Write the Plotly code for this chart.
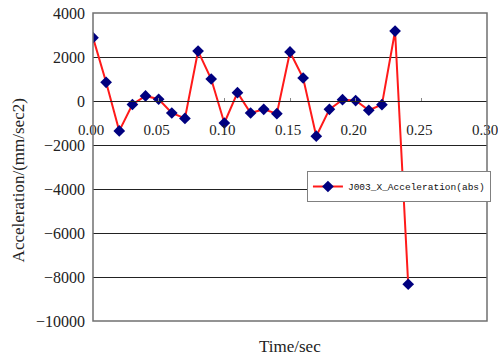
import plotly.graph_objects as go

time_sec = [0.00, 0.01, 0.02, 0.03, 0.04, 0.05, 0.06, 0.07, 0.08, 0.09,
            0.10, 0.11, 0.12, 0.13, 0.14, 0.15, 0.16, 0.17, 0.18, 0.19,
            0.20, 0.21, 0.22, 0.23, 0.24]
acceleration = [2880, 850, -1360, -160, 230, 80, -545, -790, 2270, 1000,
                -1000, 380, -545, -380, -575, 2230, 1045, -1600, -380, 60,
                20, -420, -165, 3180, -8330]
series_name = "J003_X_Acceleration(abs)"
x_ticks = [0.00, 0.05, 0.10, 0.15, 0.20, 0.25, 0.30]
x_labels = ["0.00", "0.05", "0.10", "0.15", "0.20", "0.25", "0.30"]
y_ticks = [4000, 2000, 0, -2000, -4000, -6000, -8000, -10000]
y_labels = ["4000", "2000", "0", "\u22122000", "\u22124000", "\u22126000",
            "\u22128000", "\u221210000"]

serif = "Liberation Serif"

fig = go.Figure()
fig.add_trace(go.Scatter(
    x=time_sec, y=acceleration, mode="lines+markers", name=series_name,
    line=dict(color="#ff1a1a", width=2),
    marker=dict(symbol="diamond", size=9, color="#00007f"),
))

fig.update_layout(
    width=498, height=356,
    margin=dict(l=93, r=11, t=13, b=35, autoexpand=False),
    paper_bgcolor="white", plot_bgcolor="white",
    showlegend=True,
    legend=dict(
        x=1.01, xanchor="right", y=0.487, yanchor="top",
        bgcolor="white", bordercolor="#808080", borderwidth=1,
        font=dict(family="Liberation Mono", size=9.5, color="#111"),
        itemwidth=30, tracegroupgap=0,
    ),
    xaxis=dict(
        range=[0, 0.30], tickvals=x_ticks, ticktext=x_labels,
        anchor="free", position=10/14, automargin=False,
        showline=True, linecolor="#222", linewidth=1,
        ticks="inside", ticklen=3, tickcolor="#888",
        showgrid=False, zeroline=False,
        ticklabelstandoff=15, ticklabelshift=-2,
        ticklabeloverflow="allow",
        tickfont=dict(family=serif, size=15, color="#222"),
    ),
    yaxis=dict(
        range=[-10000, 4000], tickvals=y_ticks, ticktext=y_labels,
        automargin=False,
        showgrid=True, gridcolor="#222", gridwidth=1,
        zeroline=False, showline=False, ticks="",
        ticklabelstandoff=7,
        tickfont=dict(family=serif, size=16, color="#222"),
    ),
    shapes=[dict(type="rect", xref="x domain", yref="y domain",
                 x0=0, x1=1, y0=0, y1=1,
                 line=dict(color="#707070", width=1.5), layer="above")],
    annotations=[
        dict(text="Time/sec", xref="paper", yref="paper",
             x=0.5, y=-0.082, xanchor="center", yanchor="middle",
             showarrow=False,
             font=dict(family=serif, size=17, color="#222")),
        dict(text="Acceleration/(mm/sec2)", xref="paper", yref="paper",
             x=-0.19, y=0.457, xanchor="center", yanchor="middle",
             textangle=-90, showarrow=False,
             font=dict(family=serif, size=17, color="#222")),
    ],
)

fig.write_html("out.html",
               config={"displayModeBar": False},
               post_script="document.body.style.margin='0';"
                           "document.body.style.overflow='hidden';")
